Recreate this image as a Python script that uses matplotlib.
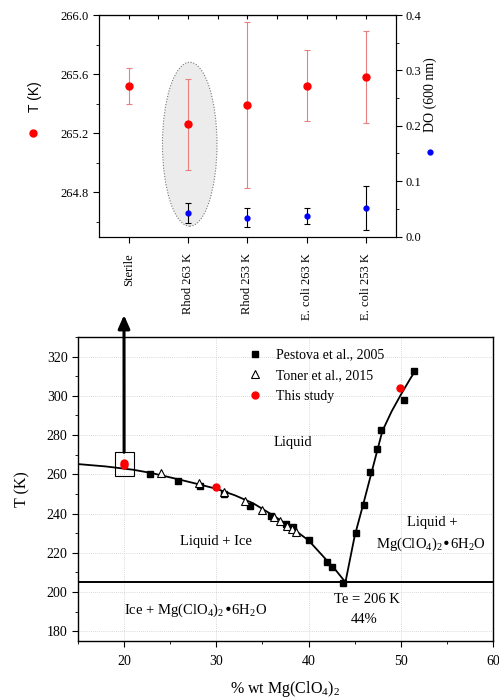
import numpy as np
import matplotlib
matplotlib.use("Agg")
import matplotlib.pyplot as plt
from matplotlib.patches import Ellipse, Rectangle
from matplotlib.ticker import MultipleLocator

plt.rcParams['font.family'] = ['Liberation Serif', 'DejaVu Serif']
plt.rcParams['mathtext.default'] = 'regular'

## top panel data ##
groups = ['Sterile', 'Rhod 263 K', 'Rhod 253 K', 'E. coli 263 K', 'E. coli 253 K']
t_mean = [265.52, 265.26, 265.39, 265.52, 265.58]
t_err = [0.12, 0.31, 0.56, 0.24, 0.31]
do_groups = ['Rhod 263 K', 'Rhod 253 K', 'E. coli 263 K', 'E. coli 253 K']
do_mean = [0.042, 0.034, 0.037, 0.052]
do_err = [0.018, 0.017, 0.014, 0.040]

## bottom panel data ##
pestova_x = [22.8, 25.8, 28.2, 30.8, 33.7, 35.9, 37.5, 38.3, 40.1, 42.0, 42.5, 43.7,
             45.1, 46.0, 46.7, 47.4, 47.9, 50.4, 51.4]
pestova_y = [260.1, 256.7, 253.8, 249.8, 243.7, 238.7, 234.8, 233.1, 226.3, 215.5, 212.6, 204.6,
             230.2, 244.2, 261.3, 272.9, 282.6, 297.7, 312.7]
toner_x = [24.0, 28.1, 30.8, 33.1, 34.9, 36.2, 36.9, 37.7, 38.2, 38.6]
toner_y = [260.6, 255.5, 251.2, 246.2, 242.0, 238.1, 236.0, 233.6, 232.2, 230.4]
study_x = [20.0, 20.0, 30.0, 49.9]
study_y = [265.5, 264.5, 253.6, 304.0]

# liquidus lines
ice_x = [15, 18, 21, 23, 26, 28, 30, 32, 34, 36, 38, 40, 42, 43, 44]
ice_y = [265.2, 264.0, 262.3, 260.6, 257.3, 255.0, 252.6, 249.3, 245.2, 239.5, 233.3, 226.3, 216.0, 210.8, 205.0]
salt_x = [44, 45, 46, 47, 48, 49, 50, 51, 51.6]
salt_y = [205, 228.5, 246, 264, 282, 292, 300.5, 308.5, 313]
eutectic_T = 205

fig = plt.figure(figsize=(4.99, 7.0), dpi=100)

## ---- top panel ---- ##
ax = fig.add_axes([0.1984, 0.6621, 0.5942, 0.3164])
xpos = np.arange(len(groups))
ax.add_patch(Ellipse((1.03, 265.125), 0.92, 1.11, facecolor='#ececec', edgecolor='#777777',
                     linestyle=(0, (1, 1.5)), lw=0.8, zorder=1))
ax.errorbar(xpos, t_mean, yerr=t_err, fmt='o', color='red', ms=5, ecolor='#e88080',
            elinewidth=0.8, capsize=2.5, capthick=0.8, zorder=3)
ax.set_xlim(-0.5, 4.5)
ax.set_ylim(264.5, 266.0)
ax.set_yticks([264.8, 265.2, 265.6, 266.0])
ax.yaxis.set_minor_locator(MultipleLocator(0.2))
ax.set_yticklabels(['264.8', '265.2', '265.6', '266.0'], fontsize=9)
ax.set_xticks(xpos)
ax.set_xticklabels(groups, rotation=90, fontsize=9, va='top')
ax.tick_params(axis='x', direction='out', length=4, pad=8)
ax.tick_params(axis='y', which='both', direction='out', length=4)
ax.tick_params(axis='y', which='minor', length=2.5)

top = ax.secondary_xaxis('top')
top.set_xticks(np.arange(-0.5, 4.6, 0.5))
top.tick_params(direction='in', length=3, labeltop=False)

ax_do = ax.twinx()
dpos = [groups.index(g) for g in do_groups]
ax_do.errorbar(dpos, do_mean, yerr=do_err, fmt='o', color='blue', ms=3.5, ecolor='black',
               elinewidth=0.8, capsize=2.5, capthick=0.8, zorder=3)
ax_do.set_ylim(0, 0.4)
ax_do.set_yticks([0.0, 0.1, 0.2, 0.3, 0.4])
ax_do.set_yticklabels(['0.0', '0.1', '0.2', '0.3', '0.4'], fontsize=9)
ax_do.yaxis.set_minor_locator(MultipleLocator(0.05))
ax_do.tick_params(axis='y', which='both', direction='out', length=4)
ax_do.tick_params(axis='y', which='minor', length=2.5)
for a in (ax, ax_do):
    for s in a.spines.values():
        s.set_linewidth(0.8)

fig.text(35 / 499, 1 - 97 / 700, 'T (K)', rotation=90, ha='center', va='center',
         fontsize=10, family=['Liberation Sans', 'DejaVu Sans'])
fig.text(430 / 499, 1 - 95 / 700, 'DO (600 nm)', rotation=90, ha='center', va='center', fontsize=10)
ax.plot([33 / 499], [1 - 133 / 700], 'o', color='red', ms=5, transform=fig.transFigure, clip_on=False)
ax.plot([430 / 499], [1 - 152 / 700], 'o', color='blue', ms=3.5, transform=fig.transFigure, clip_on=False)

## ---- bottom panel ---- ##
ax2 = fig.add_axes([0.1563, 0.0843, 0.8317, 0.4343])
ax2.set_xlim(15, 60)
ax2.set_ylim(175, 330)
ax2.set_xticks([20, 30, 40, 50, 60])
ax2.set_yticks([180, 200, 220, 240, 260, 280, 300, 320])
ax2.xaxis.set_minor_locator(MultipleLocator(5))
ax2.yaxis.set_minor_locator(MultipleLocator(10))
ax2.tick_params(which='both', direction='out', labelsize=10)
ax2.tick_params(which='major', length=4)
ax2.tick_params(which='minor', length=2.5)
ax2.tick_params(axis='x', pad=6)
ax2.grid(True, which='major', color='#cccccc', linestyle=(0, (1, 1.5)), lw=0.6)
ax2.set_axisbelow(True)
for s in ax2.spines.values():
    s.set_linewidth(1.0)

ax2.axhline(eutectic_T, color='black', lw=1.4, zorder=2)
ax2.plot(ice_x, ice_y, color='black', lw=1.3, zorder=2)
ax2.plot(salt_x, salt_y, color='black', lw=1.3, zorder=2)
ax2.plot(pestova_x, pestova_y, 's', color='black', ms=4.5, ls='none', zorder=3,
         label='Pestova et al., 2005')
ax2.plot(toner_x, toner_y, '^', mfc='white', mec='black', mew=0.8, ms=5.5, ls='none', zorder=4,
         label='Toner et al., 2015')
ax2.plot(study_x, study_y, 'o', color='red', ms=5, ls='none', zorder=5, label='This study')

ax2.add_patch(Rectangle((19.0, 259.2), 2.1, 12.0, fill=False, edgecolor='black', lw=0.8, zorder=5))
ax2.annotate('', xy=(124 / 499, 1 - 315 / 700), xycoords='figure fraction',
             xytext=(20.0, 271.2), textcoords='data',
             arrowprops=dict(arrowstyle='-|>,head_length=0.8,head_width=0.35', lw=2.2,
                             color='black', shrinkA=0, shrinkB=0))

leg = ax2.legend(loc='upper left', bbox_to_anchor=(0.41, 0.962), frameon=False, fontsize=10,
                 handlelength=1.0, handletextpad=1.0, labelspacing=0.55, borderpad=0,
                 borderaxespad=0)

ax2.text(38.35, 276.2, 'Liquid', fontsize=10.5, ha='center', va='center')
ax2.text(30.0, 225.9, 'Liquid + Ice', fontsize=10.5, ha='center', va='center')
ax2.text(53.4, 235.3, 'Liquid +', fontsize=10.5, ha='center', va='center')
ax2.text(53.3, 224.2, 'Mg(ClO$_4$)$_2$•6H$_2$O', fontsize=10.5, ha='center', va='center')
ax2.text(27.8, 190.8, 'Ice + Mg(ClO$_4$)$_2$•6H$_2$O', fontsize=10.5, ha='center', va='center')
ax2.text(46.3, 196.0, 'Te = 206 K', fontsize=10.5, ha='center', va='center')
ax2.text(46.0, 186.0, '44%', fontsize=10.5, ha='center', va='center')

ax2.set_xlabel('% wt Mg(ClO$_4$)$_2$', fontsize=11.5, labelpad=8)
ax2.set_ylabel('T (K)', fontsize=11.5, labelpad=12)

fig.savefig('out.png', dpi=100)
